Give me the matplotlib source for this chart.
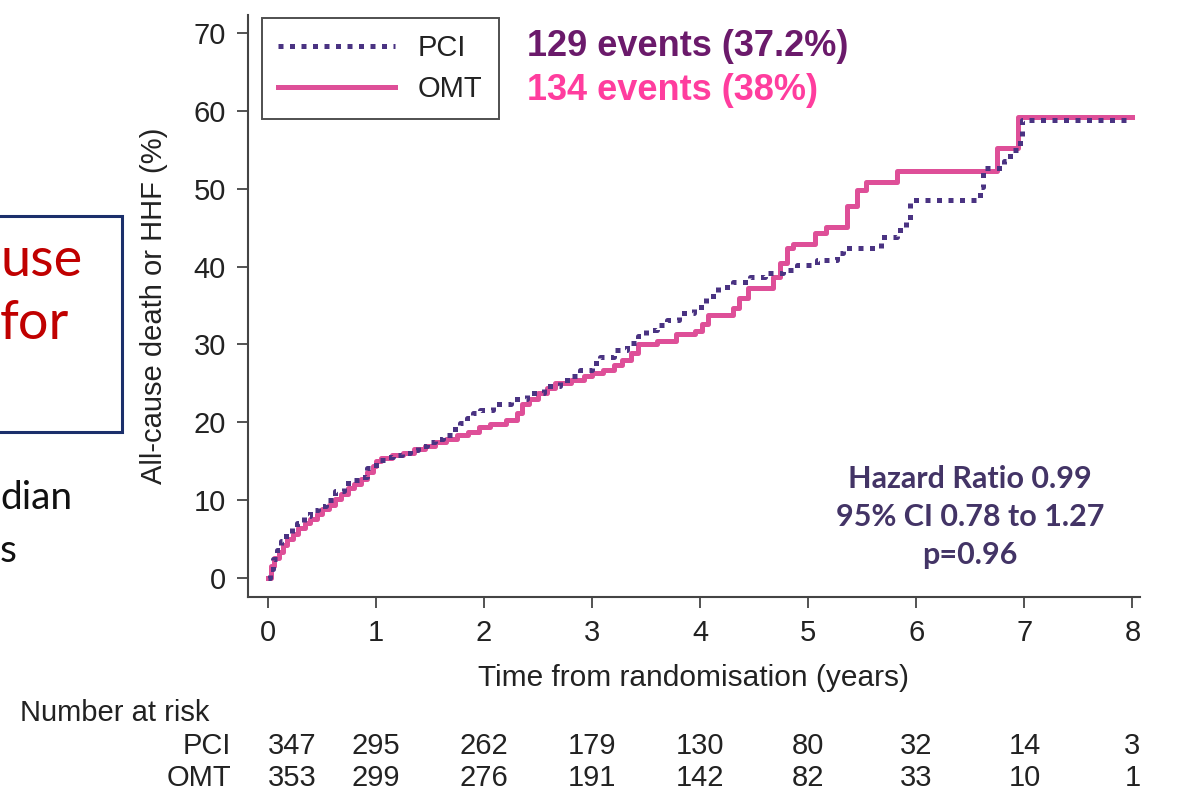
import matplotlib
matplotlib.use("Agg")
import matplotlib.pyplot as plt
import matplotlib.patches as patches
import matplotlib.transforms as mtransforms

# Cumulative incidence of all-cause death or HHF (%), step points (years, %)
pci_years = [0, 0.02, 0.05, 0.08, 0.12, 0.17, 0.22, 0.27, 0.33, 0.39, 0.46,
             0.54, 0.62, 0.70, 0.78, 0.85, 0.92, 1.00, 1.08, 1.16, 1.24,
             1.31, 1.39, 1.47, 1.55, 1.62, 1.70, 1.78, 1.84, 1.90, 1.96,
             2.08, 2.25, 2.40, 2.55, 2.70, 2.80, 2.89, 3.00, 3.07, 3.20,
             3.32, 3.42, 3.50, 3.60, 3.69, 3.80, 3.94, 4.05, 4.16, 4.30,
             4.46, 4.60, 4.77, 4.90, 5.08, 5.27, 5.32, 5.67, 5.82, 5.90,
             5.94, 6.59, 6.62, 6.81, 6.87, 6.96, 6.98, 8.00]
pci_pct = [0, 1.2, 2.4, 3.6, 4.8, 5.8, 6.5, 7.1, 7.9, 8.7, 9.3,
           10.0, 11.2, 12.2, 12.6, 13.0, 14.1, 15.2, 15.5, 15.8, 16.1,
           16.4, 17.0, 17.5, 17.9, 18.4, 19.1, 19.9, 20.6, 21.2, 21.6,
           22.3, 23.0, 23.8, 24.6, 25.4, 26.0, 26.7, 27.6, 28.4, 29.3,
           30.2, 31.1, 31.9, 32.5, 33.1, 34.0, 34.8, 36.2, 37.4, 38.0,
           38.7, 39.2, 39.6, 40.2, 40.8, 41.7, 42.4, 43.8, 44.7, 46.0,
           48.5, 50.2, 52.7, 53.5, 55.0, 56.3, 58.8, 58.8]

omt_years = [0, 0.03, 0.06, 0.10, 0.14, 0.18, 0.23, 0.28, 0.34, 0.39, 0.45,
             0.50, 0.56, 0.62, 0.68, 0.74, 0.80, 0.86, 0.92, 0.97, 1.00,
             1.05, 1.15, 1.25, 1.35, 1.45, 1.55, 1.65, 1.75, 1.85, 1.95,
             2.05, 2.20, 2.30, 2.35, 2.42, 2.50, 2.58, 2.66, 2.80, 2.92,
             3.00, 3.10, 3.20, 3.28, 3.36, 3.42, 3.60, 3.78, 3.95, 4.02,
             4.07, 4.30, 4.36, 4.44, 4.67, 4.74, 4.80, 4.86, 5.06, 5.16,
             5.36, 5.45, 5.53, 5.82, 6.75, 6.94, 8.00]
omt_pct = [0, 1.5, 2.6, 3.4, 4.3, 5.0, 5.6, 6.4, 7.0, 7.6, 8.2,
           8.8, 9.4, 10.2, 10.8, 11.5, 12.1, 12.7, 13.6, 14.4, 15.0,
           15.4, 15.8, 16.1, 16.6, 17.0, 17.5, 17.9, 18.4, 18.8, 19.4,
           19.8, 20.3, 21.2, 22.3, 23.0, 23.8, 24.4, 25.0, 25.4, 25.9,
           26.3, 26.7, 27.4, 28.0, 28.9, 30.0, 30.4, 31.3, 31.7, 32.6,
           33.8, 34.7, 36.0, 37.2, 38.7, 40.5, 42.4, 42.9, 44.3, 45.1,
           47.8, 49.8, 50.9, 52.3, 55.2, 59.2, 59.2]

# Number at risk table
risk_years = [0, 1, 2, 3, 4, 5, 6, 7, 8]
pci_at_risk = [347, 295, 262, 179, 130, 80, 32, 14, 3]
omt_at_risk = [353, 299, 276, 191, 142, 82, 33, 10, 1]

x_ticks = [0, 1, 2, 3, 4, 5, 6, 7, 8]
y_ticks = [0, 10, 20, 30, 40, 50, 60, 70]

PCI_COLOR = "#4a3382"
OMT_COLOR = "#de4f98"
AXIS_COLOR = "#444444"
TEXT_COLOR = "#222222"

plt.rcParams["font.family"] = ["Liberation Sans", "DejaVu Sans"]

W, H = 1181, 800
fig = plt.figure(figsize=(W / 100, H / 100), dpi=100)
fig.patch.set_facecolor("white")


def fx(px):
    return px / W


def fy(py):
    return 1 - py / H


ax = fig.add_axes([fx(248), fy(597), fx(1140) - fx(248), fy(15) - fy(597)])

ax.step(pci_years, pci_pct, where="post", color=PCI_COLOR, lw=3.6,
        linestyle=(0, (1, 1.3)), dash_capstyle="butt", label="PCI",
        zorder=3)
ax.step(omt_years, omt_pct, where="post", color=OMT_COLOR, lw=3.6,
        label="OMT", zorder=2)

ax.set_xlim(-0.185, 8.07)
ax.set_ylim(-2.44, 72.3)
ax.set_xticks(x_ticks)
ax.set_yticks(y_ticks)
ax.tick_params(axis="both", colors=AXIS_COLOR, labelcolor=TEXT_COLOR,
               labelsize=21, width=1.3, length=8, pad=8)
for side in ("top", "right"):
    ax.spines[side].set_visible(False)
for side in ("left", "bottom"):
    ax.spines[side].set_color(AXIS_COLOR)
    ax.spines[side].set_linewidth(1.5)

ax.set_xlabel("Time from randomisation (years)", fontsize=21.5,
              color=TEXT_COLOR, labelpad=12)
ax.set_ylabel("All-cause death or HHF (%)", fontsize=21,
              color=TEXT_COLOR, labelpad=18)

leg = ax.legend(loc="upper left", bbox_to_anchor=(0.0157, 0.995),
                borderaxespad=0, fancybox=False, edgecolor=TEXT_COLOR,
                fontsize=21, handlelength=4.0, handletextpad=0.8,
                borderpad=0.55, labelspacing=0.45)
leg.get_frame().set_linewidth(1.4)
for t in leg.get_texts():
    t.set_color(TEXT_COLOR)

# Event counts
fig.text(fx(527), fy(47), "129 events (37.2%)", fontsize=26,
         fontweight="bold", color="#6b1a6b", va="center", ha="left")
fig.text(fx(527), fy(90), "134 events (38%)", fontsize=26,
         fontweight="bold", color="#ff3d9e", va="center", ha="left")

# Hazard ratio
fig.text(fx(970), fy(517),
         "Hazard Ratio 0.99\n95% CI 0.78 to 1.27\np=0.96",
         fontsize=22, fontweight="bold", color="#433466", ha="center",
         va="center", linespacing=1.45, family=["Lato", "DejaVu Sans"])

# Number at risk table, x positions follow the axis scale
tr = mtransforms.blended_transform_factory(ax.transData, fig.transFigure)
fig.text(fx(20), fy(713), "Number at risk", fontsize=21,
         color=TEXT_COLOR, va="center", ha="left")
for label, counts, py in (("PCI", pci_at_risk, 746),
                          ("OMT", omt_at_risk, 778)):
    fig.text(fx(231), fy(py), label, fontsize=21, color=TEXT_COLOR,
             va="center", ha="right")
    for yr, n in zip(risk_years, counts):
        fig.text(yr, fy(py), str(n), transform=tr, fontsize=21,
                 color=TEXT_COLOR, va="center",
                 ha="left" if yr == 0 else "center")

# Slide elements at the left edge
box = patches.Rectangle((fx(-10), fy(432)), fx(132), fy(216) - fy(432),
                        transform=fig.transFigure, fill=False,
                        edgecolor="#1b2f6b", linewidth=2.2)
fig.add_artist(box)
fig.text(fx(0), fy(260), "use", fontsize=39, color="#c00000",
         va="center", ha="left", family=["Lato", "DejaVu Sans"])
fig.text(fx(0), fy(323), "for", fontsize=39, color="#c00000",
         va="center", ha="left", family=["Lato", "DejaVu Sans"])
fig.text(fx(0), fy(498), "dian", fontsize=28, color="#111111",
         va="center", ha="left", family=["Lato", "DejaVu Sans"])
fig.text(fx(0), fy(551), "s", fontsize=28, color="#111111",
         va="center", ha="left", family=["Lato", "DejaVu Sans"])

fig.savefig("out.png", dpi=100, facecolor="white")
